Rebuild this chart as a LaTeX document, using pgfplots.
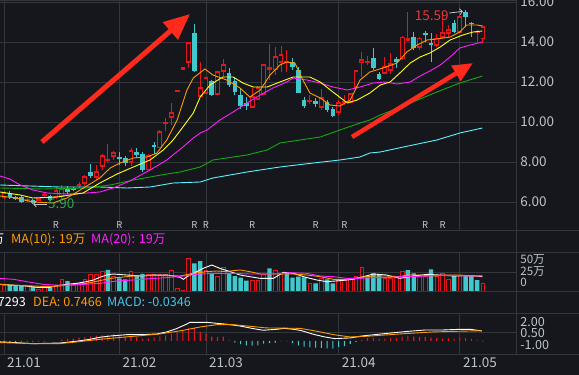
\documentclass[border=0pt]{standalone}
\usepackage{pgfplots}
\pgfplotsset{compat=1.18}
\usepackage{pgfplotstable}
\usepackage{fontspec}
\setmainfont{Noto Sans CJK SC}
\usetikzlibrary{arrows.meta}
\pgfdeclareplotmark{nothing}{}
\definecolor{bgc}{HTML}{15171C}
\definecolor{gridc}{HTML}{33363B}
\definecolor{upc}{HTML}{E3171B}
\definecolor{dnc}{HTML}{40C8CC}
\definecolor{orc}{HTML}{FF9B00}
\definecolor{yec}{HTML}{FFFF1A}
\definecolor{mac}{HTML}{FF1FFF}
\definecolor{grc}{HTML}{12A812}
\definecolor{cyc}{HTML}{5CF2FF}
\definecolor{labc}{HTML}{BEC4CC}
\definecolor{arc}{HTML}{FF2A1C}
\definecolor{lowc}{HTML}{2EA84A}
\definecolor{hic}{HTML}{E23A3A}
\definecolor{rc}{HTML}{C4C8D4}
\definecolor{macdc}{HTML}{46C6E6}
\newcommand\lf{\fontsize{13.5}{14}\selectfont}
\newcommand\gf{\fontsize{12.6}{13}\selectfont}
\newcommand\vf{\fontsize{11.6}{12}\selectfont}

\pgfplotstableread{
i O H L C
0 6.25 6.55 6.15 6.45
4 6.10 6.20 6.00 6.12
6 6.12 6.20 6.05 6.15
7 6.33 6.50 6.20 6.37
9 6.25 6.75 6.15 6.55
10 6.30 6.85 6.20 6.65
13 6.83 7.00 6.70 6.87
14 6.95 7.35 6.80 7.25
16 7.25 7.85 7.10 7.50
17 7.80 8.40 7.60 8.30
18 8.08 8.90 7.95 8.12
19 8.30 8.55 8.10 8.45
22 8.00 8.70 7.80 8.55
25 7.63 8.40 7.60 8.32
27 8.73 9.60 8.70 9.52
28 9.93 10.20 9.55 9.97
29 10.27 10.95 9.85 10.47
30 11.54 11.56 11.54 11.56
31 12.67 12.69 12.67 12.69
32 13.00 13.95 12.70 13.95
34 11.30 13.00 11.25 11.70
35 11.45 12.25 11.40 12.20
37 11.40 12.55 11.35 12.50
38 12.55 13.15 12.25 12.85
43 10.77 11.70 10.75 11.27
44 11.15 11.80 11.10 11.70
45 11.40 12.90 11.35 12.85
46 12.67 13.90 12.10 12.70
47 12.63 13.75 12.35 13.27
48 13.02 13.80 12.50 13.35
49 13.00 13.60 12.50 13.03
53 11.05 11.35 10.90 11.07
55 10.75 11.65 10.60 11.20
58 10.52 11.10 10.35 10.95
59 11.00 11.35 10.85 11.03
60 11.02 11.40 10.95 11.40
61 11.77 12.60 11.70 12.55
62 12.98 13.50 12.25 13.10
63 13.00 13.30 12.85 13.03
66 12.47 13.25 12.40 12.77
67 12.60 13.45 12.40 12.90
69 13.18 14.30 13.10 14.23
70 14.12 15.50 14.10 14.14
72 13.77 14.27 13.60 14.18
75 13.85 14.40 13.75 14.18
76 14.27 15.43 14.25 14.45
77 14.47 14.85 14.20 14.60
79 14.52 15.35 14.45 15.27
82 14.50 14.60 14.00 14.52
83 14.18 14.85 13.93 14.77
}\candup

\pgfplotstableread{
i O H L C
1 6.45 6.55 6.15 6.25
2 6.25 6.30 6.10 6.15
3 6.25 6.30 5.95 6.00
5 6.10 6.15 5.90 5.95
8 6.30 6.35 6.05 6.10
11 6.70 6.80 6.40 6.50
12 6.70 6.75 6.55 6.60
15 7.50 7.90 7.20 7.30
20 8.27 8.50 7.85 8.13
21 8.20 8.30 7.80 7.95
23 8.50 8.70 8.20 8.35
24 8.40 8.50 7.50 7.60
26 8.85 9.02 8.40 8.73
33 14.45 14.90 12.50 12.55
36 12.05 12.10 11.30 11.35
39 12.47 12.70 11.75 11.85
40 12.05 12.25 11.35 11.52
41 11.35 11.65 10.65 10.80
42 10.97 11.25 10.60 10.80
50 13.02 13.20 12.60 12.77
51 12.60 12.75 11.45 11.47
52 11.10 11.25 10.70 10.80
54 11.05 11.20 10.75 10.88
56 11.00 11.10 10.50 10.60
57 10.65 10.75 10.25 10.32
64 13.20 13.70 12.60 12.70
65 12.40 12.50 12.10 12.13
68 13.13 13.27 12.68 12.98
71 14.27 14.50 13.60 13.68
73 14.43 14.57 14.00 14.35
74 13.97 14.43 13.02 13.85
78 14.93 15.10 14.45 14.52
80 15.52 15.59 14.77 15.27
81 14.97 15.02 14.27 14.88
}\canddn

\pgfplotstableread{
i v
0 7.5
4 5.4
6 2.5
7 5.4
9 6.3
10 14.6
12 7.5
13 9.6
14 14.6
15 21.3
16 21.3
17 24.2
19 17.9
22 24.2
25 21.3
26 21.3
27 21.3
28 21.3
29 25.4
30 3.3
31 1.25
32 40.8
35 26.3
37 18.75
38 29.6
43 13.75
44 13.75
45 21.25
47 26.25
48 21.25
53 9.6
55 15.8
58 13.75
59 12.9
60 15.8
61 18.75
62 29.6
66 15.8
67 15.8
68 18.75
69 24.2
72 17.9
73 18.75
75 17.9
76 22.1
77 14.6
79 20
83 9.6
}\volup

\pgfplotstableread{
i v
1 7.5
2 6.7
3 6.7
5 5.4
8 4.6
11 12.5
18 26.3
20 15.8
21 14.6
23 20
24 21.3
33 34.6
34 37.5
36 22.1
39 22.1
40 18.75
41 16.7
42 12.9
46 28.3
49 22.9
50 16.7
51 17.9
52 17.1
54 9.6
56 14.6
57 9.6
63 17.1
64 22.1
65 20
70 26.25
71 22.1
74 27.1
78 20
80 18.75
81 18.75
82 13.75
}\voldn

\pgfplotstableread{
i v
10 0.10
11 0.15
12 0.17
13 0.24
14 0.29
15 0.34
16 0.39
17 0.44
18 0.46
19 0.51
20 0.39
21 0.34
22 0.34
23 0.29
24 0.17
25 0.17
26 0.27
27 0.34
28 0.41
29 0.51
30 0.66
31 0.75
32 0.97
33 0.97
34 0.66
35 0.56
36 0.32
37 0.29
38 0.32
39 0.05
62 0.07
63 0.20
64 0.24
65 0.17
66 0.17
67 0.20
68 0.20
69 0.32
70 0.37
71 0.32
72 0.29
73 0.29
74 0.24
75 0.20
76 0.17
77 0.20
78 0.15
79 0.24
80 0.20
81 0.15
82 0.05
}\macdup

\pgfplotstableread{
i v
0 -0.06
1 -0.06
2 -0.06
3 -0.05
4 -0.05
5 -0.05
6 -0.04
7 -0.04
40 -0.12
41 -0.24
42 -0.32
43 -0.34
44 -0.32
45 -0.20
46 -0.15
47 -0.12
48 -0.02
49 -0.02
50 -0.15
51 -0.32
52 -0.41
53 -0.46
54 -0.49
55 -0.51
56 -0.54
57 -0.56
58 -0.44
59 -0.37
60 -0.22
61 -0.07
83 -0.03
}\macddn

\pgfplotsset{
  panel/.style={
    anchor=north west, x=5.77pt,
    xmin=-0.7, xmax=88.75,
    axis x line*=box, axis y line*=right,
    axis line style={draw=gridc, line width=0.9pt},
    xtick={0,20,35,58,79}, xmajorgrids,
    grid style={draw=gridc, line width=0.9pt},
    major tick length=0pt,
    tick label style={font=\lf, text=labc},
    /pgf/number format/assume math mode=true,
    yticklabel style={anchor=west, inner sep=0pt, xshift=4pt},
    scaled y ticks=false,
  },
  ebar/.style={only marks, mark=nothing,
    error bars/.cd, y dir=plus, y explicit, error mark=none,
    error bar style={#1}},
}

\begin{document}
\begin{tikzpicture}
\fill[bgc] (0pt,0pt) rectangle (579pt,-375pt);

% ---------- main price panel ----------
\begin{axis}[panel, at={(0pt,0pt)}, y=20pt, ymin=4.6, ymax=16.1,
  xticklabels={}, ytick={6,8,...,16}, ymajorgrids,
  yticklabel style={/pgf/number format/fixed, /pgf/number format/fixed zerofill, /pgf/number format/precision=2}]
% up candles: wick, outline, hollow inside
\addplot[ebar={draw=upc, line width=0.9pt}] table[x=i, y=L, y error plus expr=\thisrow{H}-\thisrow{L}] {\candup};
\addplot[ebar={draw=upc, line width=4.8pt}] table[x=i, y expr=\thisrow{O}-0.045, y error plus expr=\thisrow{C}-\thisrow{O}+0.09] {\candup};
\addplot[ebar={draw=bgc, line width=3.0pt}] table[x=i, y expr=\thisrow{O}+0.045, y error plus expr={max(\thisrow{C}-\thisrow{O}-0.09,0)}] {\candup};
% down candles: wick and filled body
\addplot[ebar={draw=dnc, line width=0.9pt}] table[x=i, y=L, y error plus expr=\thisrow{H}-\thisrow{L}] {\canddn};
\addplot[ebar={draw=dnc, line width=4.6pt}] table[x=i, y=C, y error plus expr=\thisrow{O}-\thisrow{C}] {\canddn};
% MA120 (cyan)
\addplot[cyc, line width=0.9pt, mark=none] coordinates {(-0.7,6.85) (4.5,6.8) (9.7,6.75) (16.6,6.75) (21.3,6.7) (25.3,6.75) (29.3,6.95) (34,7.0) (36.2,7.2) (42.1,7.5) (47.8,7.75) (53.6,7.95) (58.2,8.1) (61.7,8.25) (63.4,8.45) (65.2,8.5) (69.2,8.75) (75,9.1) (79,9.45) (82.9,9.7)};
% MA60 (green)
\addplot[grc, line width=0.9pt, mark=none] coordinates {(-0.7,6.7) (6.8,6.65) (14.4,6.7) (18.4,6.85) (22.4,7.1) (28.2,7.4) (30.5,7.5) (34,7.75) (36.2,8.1) (42.1,8.35) (45.6,8.6) (47.8,8.95) (51.3,9.1) (54.8,9.25) (58.2,9.6) (61.7,9.95) (63.4,10.1) (65.2,10.35) (69.2,10.8) (75,11.5) (79,11.95) (82.9,12.3)};
% MA20 (magenta)
\addplot[mac, line width=0.9pt, mark=none] coordinates {(-0.7,7.3) (1,7.15) (2.8,6.85) (5,6.6) (7.5,6.45) (11,6.4) (14.4,6.45) (16.6,6.5) (18.9,6.7) (21.8,7.05) (25.3,7.6) (28.2,8.1) (31,8.75) (32.8,9.2) (34,9.45) (35.2,9.6) (37.4,10.1) (39.7,10.5) (42.1,10.95) (44.4,11.35) (46.6,11.7) (49,12.0) (50.1,12.2) (52.5,12.1) (54.8,11.95) (57,11.75) (59.5,11.6) (61.7,11.75) (64,11.95) (66.1,12.0) (68.1,11.9) (70.4,12.0) (72.1,12.3) (73.8,12.55) (75.6,12.85) (77.3,13.25) (79,13.7) (80.8,13.85) (82.9,14.0)};
% MA10 (yellow)
\addplot[yec, line width=0.9pt, mark=none] coordinates {(-0.7,6.5) (2.8,6.35) (5,6.2) (9.2,6.25) (13.7,6.45) (16.6,6.95) (19.6,7.4) (22.4,7.75) (25.3,8.1) (27.6,8.6) (29.3,9.1) (31,9.75) (32.8,10.45) (34,11.25) (35.7,11.85) (37.9,12.25) (39.7,12.25) (41.4,11.95) (43.2,11.75) (45.6,11.75) (47.8,12.0) (50.1,12.25) (53,12.25) (54.8,12.0) (57,11.5) (59.5,10.95) (61.2,11.1) (63.4,11.45) (65.2,11.85) (66.9,12.0) (68.6,12.45) (70.4,12.95) (72.1,13.25) (73.8,13.45) (75.6,13.75) (77.3,14.1) (79.5,14.35) (81.3,14.5) (82.9,14.55)};
% MA5 (orange)
\addplot[orc, line width=0.9pt, mark=none] coordinates {(-0.7,6.3) (2,6.2) (5,6.0) (8.5,5.95) (10.9,6.2) (13.2,6.6) (16.6,7.2) (18.4,7.7) (20.1,7.95) (22.4,8.2) (24.8,8.25) (26.5,8.45) (28.2,9.1) (30,10.1) (31.7,11.6) (32.8,12.2) (34.8,12.65) (36.2,12.35) (38.6,12.1) (40.9,11.7) (42.6,11.25) (44.4,11.6) (46.1,12.35) (47.8,12.85) (49,13.0) (50.4,12.95) (51.8,12.1) (53,11.45) (54.8,11.2) (56.5,10.85) (58.2,10.8) (60,11.1) (61.7,12.1) (63.4,12.5) (65.7,12.7) (68.1,12.95) (69.8,13.5) (71.6,13.85) (73.3,14.1) (75,14.15) (77.3,14.25) (79,14.5) (80.2,14.85) (82,14.85) (82.9,14.8)};
\pgfplotsinvokeforeach{9,20,33,35,43,54,59,73,76}{
  \node[font=\fontsize{9.5}{10}\selectfont, text=rc, inner sep=0pt] at (axis cs:#1,4.86) {R};
}
\draw[rc, line width=0.8pt, -{Straight Barb[length=2.5pt,width=6pt]}] (axis cs:7.45,5.9) -- (axis cs:5.05,5.9);
\node[anchor=west, inner sep=0pt, text=lowc, font=\lf] at (axis cs:7.6,5.9) {5.90};
\node[anchor=east, inner sep=0pt, text=hic, font=\lf] at (axis cs:77.1,15.33) {15.59};
\draw[rc, line width=0.8pt, -{Straight Barb[length=2.5pt,width=6pt]}] (axis cs:77.2,15.45) -- (axis cs:79.5,15.53);
\end{axis}

% ---------- volume panel ----------
\begin{axis}[panel, at={(0pt,-252pt)}, y=0.8pt, ymin=0, ymax=48.75,
  xticklabels={}, ytick={23.75}, yticklabels={}, ymajorgrids,
  extra y ticks={39.0,24.0,10.4}, extra y tick labels={50万,25万,0},
  extra y tick style={grid=none, yticklabel style={font=\vf}}]
\addplot[ybar, bar width=3.6pt, bar shift=0pt, draw=upc, fill=bgc, line width=0.8pt] table[x=i,y=v] {\volup};
\addplot[ybar, bar width=4.4pt, bar shift=0pt, draw=none, fill=dnc] table[x=i,y=v] {\voldn};
\addplot[white, line width=0.9pt, mark=none] coordinates {(-0.7,8.3) (3.9,6.25) (5.7,4.6) (8.0,4.6) (8.8,6.25) (10.9,8.3) (12.6,9.6) (14.3,11.7) (15.5,13.75) (16.6,17.1) (17.8,20) (18.9,21.25) (21.3,20) (23.6,18.75) (25.9,20) (28.2,20) (29.3,18.75) (30.5,17.1) (31.1,14.6) (31.7,17.9) (33.4,24.2) (34.5,28.3) (36,32.5) (37.4,28.3) (39.2,24.2) (40.9,20) (42.6,17.9) (44.4,15.8) (46.7,15.8) (48.4,23.3) (50.2,22.1) (51.9,17.9) (54.2,13.75) (55.9,11.7) (58.2,12.9) (60.5,14.6) (62.3,17.9) (64,21.25) (66.3,20) (68.6,15.8) (71,18.75) (73.3,20.8) (75.5,20) (77.9,18.75) (80.2,19.2) (81.9,18.75) (82.9,17.9)};
\addplot[orc, line width=0.9pt, mark=none] coordinates {(-0.7,8.3) (2.2,7.1) (5.1,6.25) (8.0,5.4) (10.9,7.1) (14.3,9.6) (16.6,12.9) (18.4,15.8) (22.4,18.75) (25.3,19.6) (28.2,19.2) (30.5,18.75) (32.8,22.1) (35.1,24.2) (36.9,25) (38.6,24.2) (39.7,25.4) (40.9,26.25) (42.6,24.2) (44.4,21.25) (46.7,21.25) (48.4,21.25) (50.2,21.25) (52.5,20) (54.8,17.9) (57.1,14.6) (59.4,14.6) (61.7,17.1) (64,18.75) (66.3,18.75) (68.6,17.9) (69.8,20) (72.1,20) (74.4,18.75) (76.7,20) (79,20) (81.3,18.75) (82.9,19)};
\addplot[mac, line width=0.9pt, mark=none] coordinates {(-0.7,15.8) (1.7,14.6) (3.9,11.7) (6.8,8.3) (9.7,7.1) (13.8,8.3) (16.6,9.6) (19.5,12.5) (22.4,13.75) (25.3,15.4) (28.2,16.7) (31.1,18.75) (34,21.25) (36.9,22.1) (39.7,22.1) (42.6,21.25) (44.4,21.25) (46.7,21.25) (49.6,22.9) (52.5,22.1) (54.8,18.75) (57.1,17.9) (59.4,15.8) (61.7,15.8) (64,16.7) (66.3,16.7) (68.6,17.9) (71,17.9) (73.3,18.75) (75.5,19.6) (77.9,19.6) (80.2,18.75) (82.9,18.75)};
\end{axis}

% ---------- MACD panel ----------
\begin{axis}[panel, at={(0pt,-313pt)}, y=13.7pt, ymin=-0.95, ymax=2.04,
  xticklabels={21.01,21.02,21.03,21.04,21.05},
  xticklabel style={anchor=north west, inner sep=0pt, xshift=3pt, yshift=-4pt},
  ytick={0.584}, yticklabels={}, ymajorgrids,
  extra y ticks={1.36,0.547,-0.265}, extra y tick labels={2.00,0.50,-1.00},
  extra y tick style={grid=none, yticklabel style={font=\gf}}]
\addplot[ybar, bar width=1.1pt, bar shift=0pt, draw=none, fill=upc] table[x=i,y=v] {\macdup};
\addplot[ybar, bar width=1.1pt, bar shift=0pt, draw=none, fill=dnc] table[x=i,y=v] {\macddn};
\addplot[white, line width=0.9pt, mark=none] coordinates {(-0.7,-0.07) (2,-0.12) (4.8,-0.2) (9.7,-0.15) (12.6,-0.02) (14.9,0.12) (16.6,0.27) (18.4,0.36) (21.3,0.46) (24.1,0.46) (26.5,0.51) (28.2,0.66) (29.9,0.9) (31.7,1.24) (32.2,1.36) (35.1,1.36) (38.6,1.22) (40.9,1.09) (43.2,0.9) (44.9,0.78) (47.5,0.86) (48.5,0.92) (50,0.86) (51.5,0.76) (53.5,0.5) (55.5,0.3) (57.3,0.17) (60,0.22) (62,0.36) (64,0.45) (67,0.58) (70,0.7) (73,0.8) (76,0.8) (79,0.85) (81,0.84) (82.8,0.73)};
\addplot[orc, line width=0.9pt, mark=none] coordinates {(-0.7,-0.12) (5.1,-0.19) (9.7,-0.19) (12.6,-0.07) (16.6,0.12) (22.4,0.34) (27,0.51) (31.1,0.78) (34,1.02) (36.9,1.19) (39.7,1.19) (42.6,1.07) (45.5,0.95) (51.3,0.92) (54.2,0.71) (57.1,0.46) (60,0.29) (62.8,0.34) (68.6,0.51) (74.4,0.66) (82.8,0.75)};
\end{axis}

% panel separators (full width) and right border
\foreach \yy in {230,252,291,313,354} {\draw[gridc, line width=0.9pt] (0pt,-\yy pt) -- (579pt,-\yy pt);}
\draw[gridc, line width=0.9pt] (516pt,0pt) -- (516pt,-354pt);

% legends
\node[anchor=east, inner sep=0pt, text=white, font=\gf] at (4.5pt,-240pt) {MA(5): 18万};
\node[anchor=west, inner sep=0pt, text=orc, font=\gf] at (11pt,-240pt) {MA(10): 19万};
\node[anchor=west, inner sep=0pt, text=mac, font=\gf] at (91pt,-240pt) {MA(20): 19万};
\node[anchor=east, inner sep=0pt, text=white, font=\gf] at (26pt,-302pt) {DIF: 0.7293};
\node[anchor=west, inner sep=0pt, text=orc, font=\gf] at (33pt,-302pt) {DEA: 0.7466};
\node[anchor=west, inner sep=0pt, text=macdc, font=\gf] at (107pt,-302pt) {MACD: -0.0346};

% trend arrows
\draw[arc, line width=5pt, -{Triangle[length=26pt,width=22pt]}] (42pt,-142pt) -- (190pt,-14pt);
\draw[arc, line width=4.5pt, -{Triangle[length=20pt,width=17pt]}] (352pt,-137pt) -- (473pt,-63pt);

\pgfresetboundingbox
\useasboundingbox (0pt,0pt) rectangle (579pt,-375pt);
\end{tikzpicture}
\end{document}
